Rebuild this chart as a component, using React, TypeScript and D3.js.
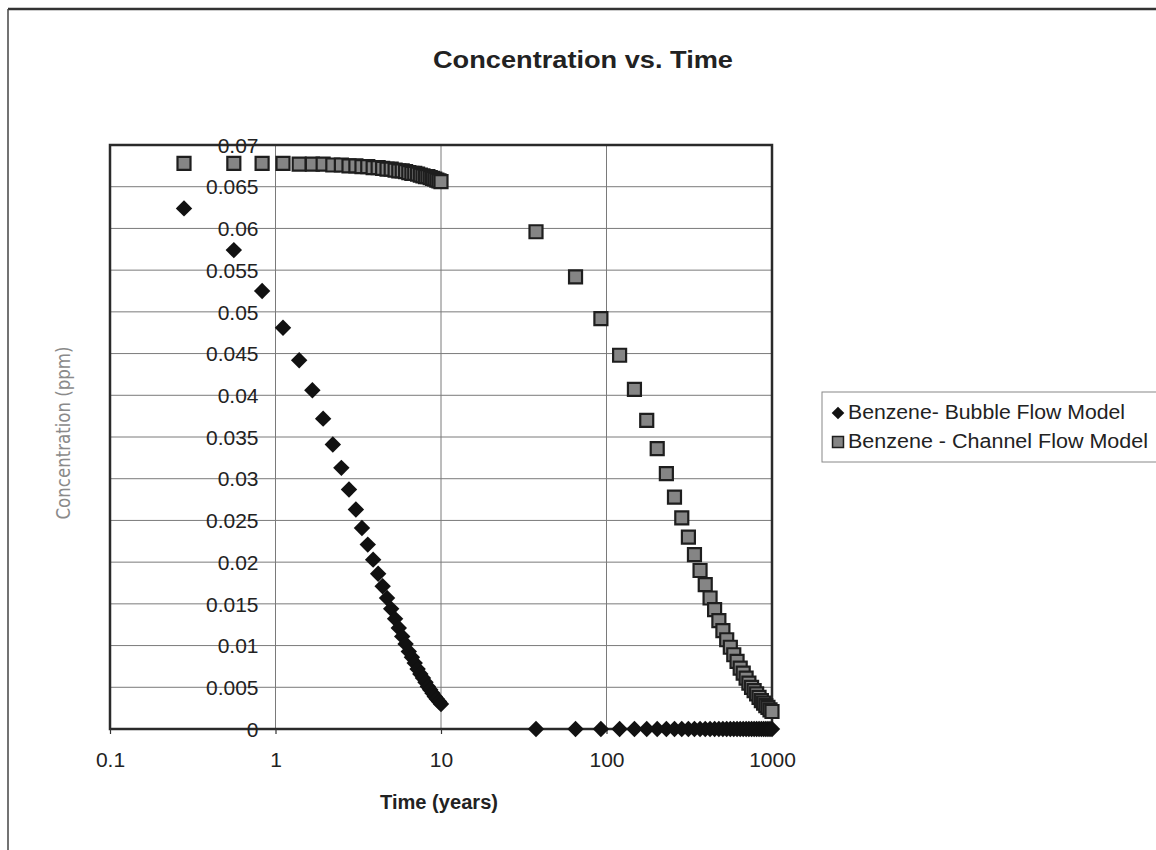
import React, { useEffect, useRef } from "react";
import * as d3 from "d3";

// time steps (years) for the two runs
const timeEarly = [
  0.28, 0.56, 0.83, 1.11, 1.39, 1.67, 1.94, 2.22, 2.5, 2.78, 3.06, 3.33,
  3.61, 3.89, 4.17, 4.44, 4.72, 5.0, 5.28, 5.56, 5.83, 6.11, 6.39, 6.67,
  6.94, 7.22, 7.5, 7.78, 8.06, 8.33, 8.61, 8.89, 9.17, 9.44, 9.72, 10.0,
];
const timeLate = [
  37.5, 65, 92.5, 120, 147.5, 175, 202.5, 230, 257.5, 285, 312.5, 340,
  367.5, 395, 422.5, 450, 477.5, 505, 532.5, 560, 587.5, 615, 642.5, 670,
  697.5, 725, 752.5, 780, 807.5, 835, 862.5, 890, 917.5, 945, 972.5, 1000,
];

// concentrations (ppm)
const bubbleEarly = [
  0.0624, 0.0574, 0.0525, 0.0481, 0.0442, 0.0406, 0.0372, 0.0341, 0.0313,
  0.0287, 0.0263, 0.0241, 0.0221, 0.0203, 0.0186, 0.0171, 0.0157, 0.0144,
  0.0132, 0.0121, 0.0111, 0.0102, 0.0093, 0.0086, 0.0079, 0.0072, 0.0066,
  0.0061, 0.0056, 0.0051, 0.0047, 0.0043, 0.0039, 0.0036, 0.0033, 0.003,
];
const bubbleLate = [
  0, 0, 0, 0, 0, 0, 0, 0, 0, 0, 0, 0, 0, 0, 0, 0, 0, 0,
  0, 0, 0, 0, 0, 0, 0, 0, 0, 0, 0, 0, 0, 0, 0, 0, 0, 0,
];
const channelEarly = [
  0.0678, 0.0678, 0.0678, 0.0678, 0.0677, 0.0677, 0.0677, 0.0676, 0.0676,
  0.0675, 0.0675, 0.0674, 0.0674, 0.0673, 0.0673, 0.0672, 0.0671, 0.0671,
  0.067, 0.0669, 0.0669, 0.0668, 0.0667, 0.0666, 0.0666, 0.0665, 0.0664,
  0.0663, 0.0662, 0.0662, 0.0661, 0.066, 0.0659, 0.0658, 0.0657, 0.0656,
];
const channelLate = [
  0.0596, 0.0542, 0.0492, 0.0448, 0.0407, 0.037, 0.0336, 0.0306, 0.0278,
  0.0253, 0.023, 0.0209, 0.019, 0.0173, 0.0157, 0.0143, 0.013, 0.0118,
  0.0107, 0.0098, 0.0089, 0.0081, 0.0073, 0.0067, 0.0061, 0.0055, 0.005,
  0.0046, 0.0042, 0.0038, 0.0034, 0.0031, 0.0028, 0.0026, 0.0023, 0.0021,
];

const xTickValues = [0.1, 1, 10, 100, 1000];
const xTickLabels = ["0.1", "1", "10", "100", "1000"];
const yTickValues = [
  0, 0.005, 0.01, 0.015, 0.02, 0.025, 0.03, 0.035, 0.04, 0.045, 0.05, 0.055,
  0.06, 0.065, 0.07,
];
const yTickLabels = [
  "0", "0.005", "0.01", "0.015", "0.02", "0.025", "0.03", "0.035", "0.04",
  "0.045", "0.05", "0.055", "0.06", "0.065", "0.07",
];
const seriesNames = ["Benzene- Bubble Flow Model", "Benzene - Channel Flow Model"];

const FONT = "'Liberation Sans', Arial, sans-serif";

const App = () => {
  const ref = useRef<SVGSVGElement>(null);

  useEffect(() => {
    const svg = d3.select(ref.current);
    svg.selectAll("*").remove();

    const left = 110, right = 772, top = 145, bottom = 729;
    const x = d3.scaleLog().domain([0.1, 1000]).range([left, right]);
    const y = d3.scaleLinear().domain([0, 0.07]).range([bottom, top]);

    svg.append("rect").attr("width", 1156).attr("height", 850).attr("fill", "#fff");

    // outer chart border (cut off at right/bottom)
    svg.append("line").attr("x1", 8).attr("x2", 1156).attr("y1", 9).attr("y2", 9)
      .attr("stroke", "#333").attr("stroke-width", 2.5);
    svg.append("line").attr("x1", 8).attr("x2", 8).attr("y1", 9).attr("y2", 850)
      .attr("stroke", "#444").attr("stroke-width", 1.5);

    // title
    svg.append("text")
      .attr("x", 583).attr("y", 68)
      .attr("text-anchor", "middle")
      .attr("font-family", FONT).attr("font-weight", "bold").attr("font-size", 23)
      .attr("textLength", 300).attr("lengthAdjust", "spacingAndGlyphs")
      .attr("fill", "#222")
      .text("Concentration vs. Time");

    // gridlines
    svg.append("g").selectAll("line")
      .data(yTickValues.slice(1, -1))
      .enter().append("line")
      .attr("x1", left).attr("x2", right)
      .attr("y1", (d) => y(d)).attr("y2", (d) => y(d))
      .attr("stroke", "#7a7a7a").attr("stroke-width", 1);
    svg.append("g").selectAll("line")
      .data(xTickValues.slice(1, -1))
      .enter().append("line")
      .attr("x1", (d) => x(d)).attr("x2", (d) => x(d))
      .attr("y1", top).attr("y2", bottom)
      .attr("stroke", "#7a7a7a").attr("stroke-width", 1);

    // plot border
    svg.append("rect")
      .attr("x", left).attr("y", top)
      .attr("width", right - left).attr("height", bottom - top)
      .attr("fill", "none").attr("stroke", "#2a2a2a").attr("stroke-width", 2.5);

    // y axis crosses at x = 1
    const yAxis = svg.append("g")
      .attr("transform", `translate(${x(1)},0)`)
      .call(
        d3.axisLeft(y).tickValues(yTickValues).tickSize(0).tickPadding(0)
          .tickFormat((d, i) => yTickLabels[i])
      );
    yAxis.select(".domain").remove();
    yAxis.selectAll("text")
      .attr("x", 0).attr("dy", "0.36em")
      .attr("transform", "translate(-17,0) scale(1.05,1)")
      .attr("font-family", FONT).attr("font-size", 20).attr("fill", "#222");

    // x axis
    const xAxis = svg.append("g")
      .attr("transform", `translate(0,${bottom})`)
      .call(
        d3.axisBottom(x).tickValues(xTickValues).tickSize(5).tickPadding(19)
          .tickFormat((d, i) => xTickLabels[i])
      );
    xAxis.select(".domain").remove();
    xAxis.selectAll("line").attr("stroke", "#333").attr("stroke-width", 1.2);
    xAxis.selectAll("text")
      .attr("font-family", FONT).attr("font-size", 20).attr("fill", "#222");
    xAxis.selectAll(".tick text").each(function () {
      const w = (this as SVGTextElement).getComputedTextLength();
      d3.select(this).attr("textLength", w * 1.05).attr("lengthAdjust", "spacingAndGlyphs");
    });

    // axis titles
    svg.append("text")
      .attr("x", 439).attr("y", 809)
      .attr("text-anchor", "middle")
      .attr("font-family", FONT).attr("font-weight", "bold").attr("font-size", 20)
      .attr("textLength", 118).attr("lengthAdjust", "spacingAndGlyphs")
      .attr("fill", "#222")
      .text("Time (years)");
    svg.append("text")
      .attr("transform", "translate(70,433) rotate(-90)")
      .attr("text-anchor", "middle")
      .attr("font-family", "'DejaVu Sans Condensed', 'DejaVu Sans', sans-serif")
      .attr("font-weight", 300).attr("font-size", 19)
      .attr("textLength", 173).attr("lengthAdjust", "spacingAndGlyphs")
      .attr("fill", "#8a8a8a")
      .text("Concentration (ppm)");

    const times = timeEarly.concat(timeLate);
    const bubble = times.map((t, i) => ({ t, c: bubbleEarly.concat(bubbleLate)[i] }));
    const channel = times.map((t, i) => ({ t, c: channelEarly.concat(channelLate)[i] }));

    const diamond = d3.symbol().type(d3.symbolSquare).size(135)();
    const square = d3.symbol().type(d3.symbolSquare).size(169)();

    svg.append("g").selectAll("path")
      .data(bubble)
      .enter().append("path")
      .attr("d", diamond)
      .attr("transform", (d) => `translate(${x(d.t)},${y(d.c)}) rotate(45)`)
      .attr("fill", "#111");

    svg.append("g").selectAll("path")
      .data(channel)
      .enter().append("path")
      .attr("d", square)
      .attr("transform", (d) => `translate(${x(d.t)},${y(d.c)})`)
      .attr("fill", "#858585")
      .attr("stroke", "#1e1e1e")
      .attr("stroke-width", 2.2);

    // legend
    const legend = svg.append("g");
    legend.append("rect")
      .attr("x", 822).attr("y", 392).attr("width", 345).attr("height", 70)
      .attr("fill", "#fff").attr("stroke", "#888").attr("stroke-width", 1);
    legend.append("path")
      .attr("d", d3.symbol().type(d3.symbolSquare).size(80)())
      .attr("transform", "translate(838,413) rotate(45)")
      .attr("fill", "#111");
    legend.append("path")
      .attr("d", d3.symbol().type(d3.symbolSquare).size(120)())
      .attr("transform", "translate(838,442)")
      .attr("fill", "#858585").attr("stroke", "#1e1e1e").attr("stroke-width", 1.5);
    legend.selectAll("text")
      .data(seriesNames)
      .enter().append("text")
      .attr("x", 848)
      .attr("y", (d, i) => 419 + i * 29)
      .attr("font-family", FONT).attr("font-size", 20).attr("fill", "#222")
      .attr("textLength", (d, i) => (i === 0 ? 277 : 300))
      .attr("lengthAdjust", "spacingAndGlyphs")
      .text((d) => d);
  }, []);

  return (
    <svg
      ref={ref}
      width={1156}
      height={850}
      style={{ position: "absolute", left: 0, top: 0 }}
    />
  );
};

export default App;
